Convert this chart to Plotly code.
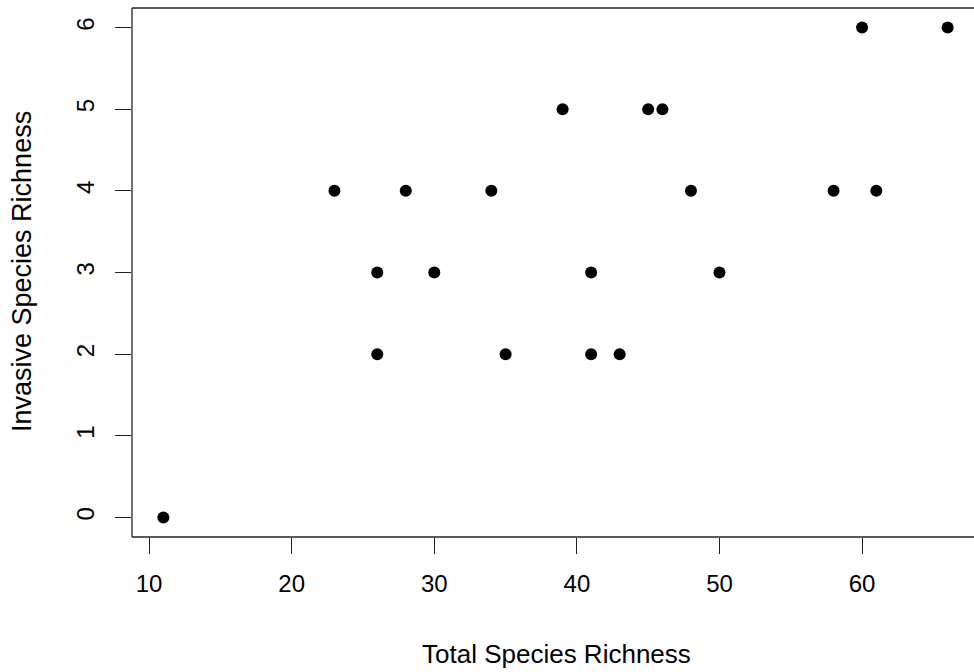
import plotly.graph_objects as go

# Total vs invasive species richness per site
total_richness = [11, 23, 26, 26, 28, 30, 34, 35, 39, 41, 41, 43, 45, 46, 48, 50, 58, 60, 61, 66]
invasive_richness = [0, 4, 3, 2, 4, 3, 4, 2, 5, 3, 2, 2, 5, 5, 4, 3, 4, 6, 4, 6]

x_ticks = [10, 20, 30, 40, 50, 60]
y_ticks = [0, 1, 2, 3, 4, 5, 6]

FONT = "Liberation Sans, Arial, sans-serif"
TICK_SIZE = 24
TITLE_SIZE = 26
EDGE = dict(color="#222", width=1.3)

fig = go.Figure(
    go.Scatter(
        x=total_richness,
        y=invasive_richness,
        mode="markers",
        marker=dict(color="black", size=12, line=dict(width=0)),
        hoverinfo="x+y",
    )
)

axis_common = dict(
    showgrid=False,
    zeroline=False,
    showline=False,
    ticks="outside",
    ticklen=16,
    tickwidth=1.3,
    tickcolor="#222",
    tickfont=dict(family=FONT, size=TICK_SIZE, color="black"),
)

fig.update_layout(
    width=974,
    height=672,
    margin=dict(l=132, r=0, t=8, b=135),
    paper_bgcolor="white",
    plot_bgcolor="white",
    showlegend=False,
    xaxis=dict(
        range=[8.8, 67.85],
        tickvals=x_ticks,
        ticktext=[str(v) for v in x_ticks],
        ticklabelstandoff=9,
        **axis_common,
    ),
    yaxis=dict(
        range=[-0.24, 6.24],
        tickvals=y_ticks,
        ticktext=[str(v) for v in y_ticks],
        tickangle=-90,
        ticklabelstandoff=11,
        **axis_common,
    ),
    shapes=[
        # plot box: left, bottom and top edges (the right edge runs past the page)
        dict(type="line", xref="paper", yref="paper", x0=0, x1=0, y0=0, y1=1, line=EDGE),
        dict(type="line", xref="paper", yref="paper", x0=0, x1=1.01, y0=0, y1=0, line=EDGE),
        dict(type="line", xref="paper", yref="paper", x0=0, x1=1.01, y0=1, y1=1, line=EDGE),
    ],
    annotations=[
        dict(
            text="Total Species Richness",
            xref="paper", yref="paper",
            x=(556 - 132) / 842, y=-(654 - 537) / 529,
            xanchor="center", yanchor="middle",
            showarrow=False,
            font=dict(family=FONT, size=TITLE_SIZE, color="black"),
        ),
        dict(
            text="Invasive Species Richness",
            xref="paper", yref="paper",
            x=-(132 - 22) / 842, y=(537 - 272) / 529,
            xanchor="center", yanchor="middle",
            textangle=-90,
            showarrow=False,
            font=dict(family=FONT, size=TITLE_SIZE + 1, color="black"),
        ),
    ],
)

fig.write_html("out.html")
